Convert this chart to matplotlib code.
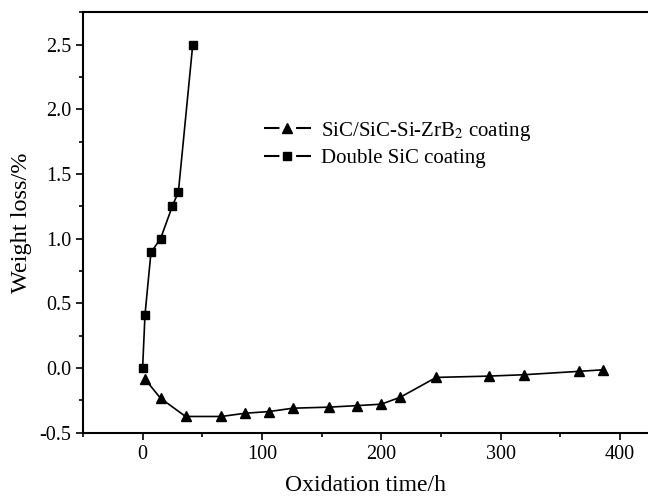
import matplotlib
matplotlib.use("Agg")
import matplotlib.pyplot as plt
from matplotlib.lines import Line2D
from matplotlib.ticker import MultipleLocator

# oxidation time (h) and weight loss (%)
zrb2_time = [2, 15, 36, 66, 86, 106, 126, 156, 180, 200, 216, 246, 290, 320, 366, 386]
zrb2_loss = [-0.085, -0.233, -0.374, -0.374, -0.349, -0.336, -0.31, -0.302,
             -0.29, -0.279, -0.225, -0.072, -0.062, -0.051, -0.025, -0.013]

sic_time = [0, 2, 7, 15, 25, 30, 42]
sic_loss = [0.0, 0.413, 0.895, 1.0, 1.254, 1.364, 2.5]

labels = [r"SiC/SiC-Si-ZrB$_2$ coating", "Double SiC coating"]

plt.rcParams["font.family"] = ["Liberation Serif", "DejaVu Serif"]
plt.rcParams["mathtext.fontset"] = "stix"
plt.rcParams["axes.unicode_minus"] = False

fig = plt.figure(figsize=(6.48, 4.98), dpi=100)
ax = fig.add_axes([0.128, 0.131, 0.872, 0.844])

ax.plot(zrb2_time, zrb2_loss, color="black", lw=1.2, marker="^", ms=7.5)
ax.plot(sic_time, sic_loss, color="black", lw=1.2, marker="s", ms=6)

ax.set_xlim(-50, 423.5)
ax.set_ylim(-0.5, 2.75)
ax.xaxis.set_major_locator(MultipleLocator(100))
ax.xaxis.set_minor_locator(MultipleLocator(50))
ax.yaxis.set_major_locator(MultipleLocator(0.5))
ax.yaxis.set_minor_locator(MultipleLocator(0.25))
ax.tick_params(which="both", direction="out", top=False, right=False, width=1.2)
ax.tick_params(which="major", length=5, labelsize=14.5)
ax.tick_params(which="minor", length=3)

for side in ["left", "bottom", "top"]:
    ax.spines[side].set_linewidth(1.5)
ax.spines["right"].set_visible(False)

ax.set_xlabel("Oxidation time/h", fontsize=17, labelpad=8)
ax.set_ylabel("Weight loss/%", fontsize=17.5, labelpad=5)

# Origin-style legend keys: line broken around the marker
handles = [
    Line2D([], [], color="black", lw=1.5, ls=(0, (7.4, 8)), marker="^", ms=7),
    Line2D([], [], color="black", lw=1.5, ls=(0, (7.4, 8)), marker="s", ms=5.5),
]
ax.legend(handles, labels, loc="upper left", bbox_to_anchor=(0.305, 0.765),
          frameon=False, fontsize=15, handlelength=2.27, labelspacing=0.3,
          borderaxespad=0, handletextpad=0.5, numpoints=1)

fig.savefig("out.png", dpi=100)
